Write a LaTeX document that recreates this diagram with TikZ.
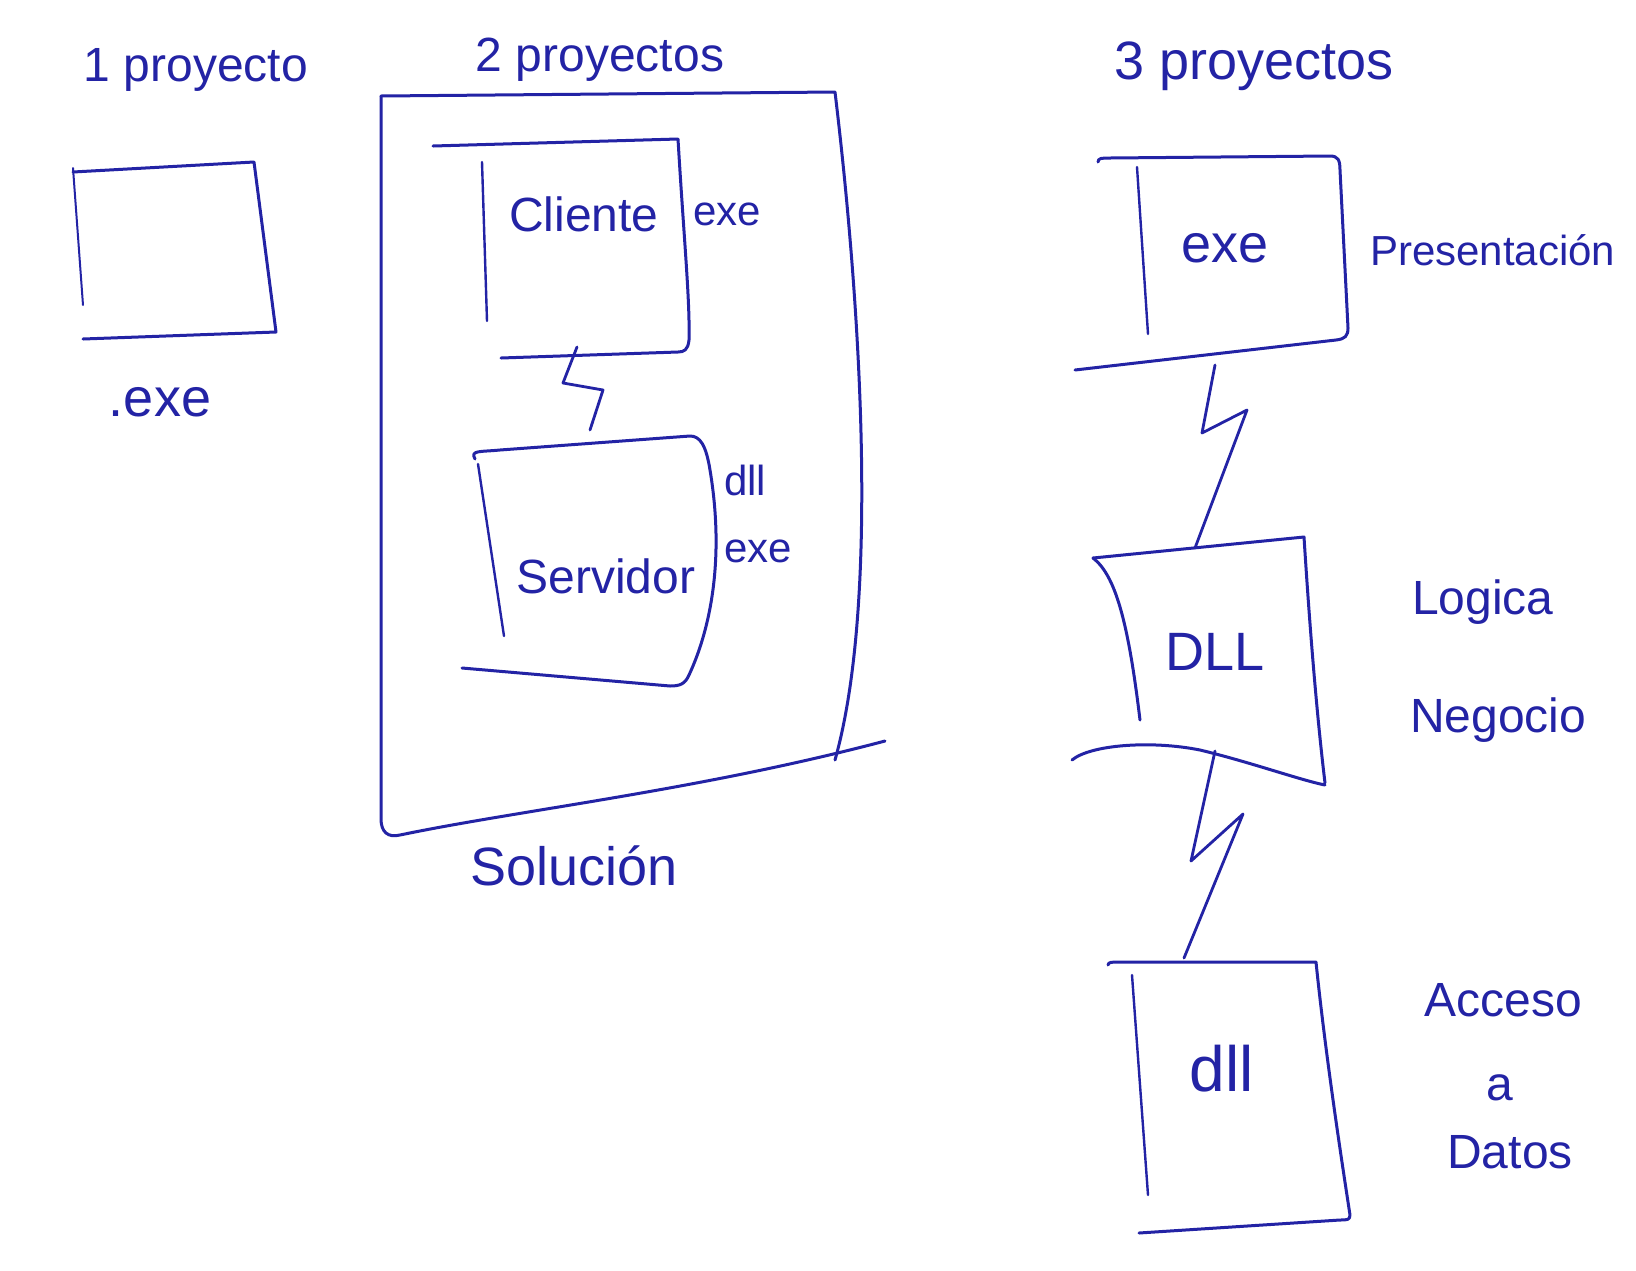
\documentclass[tikz,border=0pt]{standalone}
\usepackage{fontspec}
\setmainfont{Liberation Sans}
\definecolor{ink}{RGB}{35,35,165}
\begin{document}
\begin{tikzpicture}[x=1pt,y=-1pt,
  pen/.style={draw=ink,line width=3pt,line cap=round,line join=round},
  lbl/.style={text=ink,inner sep=0pt,font=\fontsize{42}{48}\selectfont},
  big/.style={text=ink,inner sep=0pt,font=\fontsize{48}{54}\selectfont},
  huge/.style={text=ink,inner sep=0pt,font=\fontsize{54}{60}\selectfont},
  zig/.style={pen,line width=2.8pt}]
\useasboundingbox (0,0) rectangle (1636,1270);
\fill[white] (0,0) rectangle (1636,1270);

% ---- 1 proyecto
\node[big] (t1) at (196,70) {1 proyecto};
\draw[pen] (73,172) -- (254,162) -- (276,332) -- (83,339);
\draw[pen,line width=2pt] (73,168) -- (83,305);
\node[huge] (e1) at (160,402) {.exe};

% ---- 2 proyectos
\node[big] (t2) at (600,60) {2 proyectos};
% solucion frame
\draw[pen] (381,96) -- (835,92) .. controls (860,300) and (880,600) .. (835,760);
\draw[pen] (381,96) -- (381,819) .. controls (381,832) and (388,838) .. (400,835)
  .. controls (520,810) and (700,790) .. (885,741);
\node[huge] (sol) at (574,866) {Solución};
% cliente
\draw[pen] (433,146) -- (678,139) .. controls (684,240) and (690,300) .. (689,340)
  .. controls (688,350) and (684,352) .. (678,352) -- (501,358);
\draw[pen,line width=2.4pt] (482,162) -- (487,321);
\node[big] (cli) at (584,214) {Cliente};
\node[lbl,anchor=west] (cliexe) at (693,214) {exe};
% zigzag
\coordinate (z1a) at (577,347);
\coordinate (z1b) at (590,430);
\draw[zig] (z1a) -- (563,383) -- (603,390) -- (z1b);
% servidor
\draw[pen] (475,459) .. controls (470,450) and (480,452) .. (500,450) -- (690,436)
  .. controls (700,436) and (706,445) .. (710,470)
  .. controls (725,560) and (710,630) .. (689,675)
  .. controls (685,684) and (680,686) .. (670,686) -- (462,668);
\draw[pen,line width=2.4pt] (478,464) -- (504,636);
\node[big] (srv) at (606,576) {Servidor};
\node[lbl,anchor=west] (srvdll) at (724,480) {dll};
\node[lbl,anchor=west] (srvexe) at (724,551) {exe};

% ---- 3 proyectos
\node[huge] (t3) at (1254,66) {3 proyectos};
% exe box
\draw[pen] (1098,162) .. controls (1098,158) and (1102,158) .. (1110,158) -- (1330,156)
  .. controls (1338,156) and (1340,160) .. (1340,170) -- (1348,328)
  .. controls (1348,336) and (1345,339) .. (1336,340) -- (1075,370);
\draw[pen,line width=2.4pt] (1137,167) -- (1148,334);
\node[huge] (exe3) at (1225,248) {exe};
\node[lbl,anchor=west] (pres) at (1370,250) {Presentación};
% zigzag 1
\coordinate (z2a) at (1215,365);
\coordinate (z2b) at (1195,548);
\draw[zig] (z2a) -- (1202,433) -- (1247,410) -- (z2b);
% DLL box
\draw[pen] (1093,558) -- (1304,537) .. controls (1308,600) and (1315,700) .. (1325,783);
\draw[pen] (1093,558) .. controls (1115,575) and (1128,620) .. (1140,720);
\draw[pen] (1072,760) .. controls (1090,745) and (1150,740) .. (1200,750)
  .. controls (1250,762) and (1300,780) .. (1325,785);
\node[huge] (dll3) at (1215,652) {DLL};
\node[big,anchor=west] (neg1) at (1412,602) {Logica};
\node[big,anchor=west] (neg2) at (1410,720) {Negocio};
% zigzag 2
\coordinate (z3a) at (1215,751);
\coordinate (z3b) at (1184,958);
\draw[zig] (z3a) -- (1191,861) -- (1243,814) -- (z3b);
% dll box
\draw[pen] (1108,965) .. controls (1108,962) and (1112,962) .. (1120,962) -- (1316,962)
  .. controls (1325,1050) and (1340,1150) .. (1350,1215)
  .. controls (1350,1220) and (1347,1220) .. (1340,1220) -- (1139,1233);
\draw[pen,line width=2.4pt] (1132,975) -- (1148,1195);
\node[text=ink,inner sep=0pt,font=\fontsize{64}{70}\selectfont] (dll4) at (1222,1069) {dll};
\node[big] (acc1) at (1503,1000) {Acceso};
\node[big] (acc2) at (1500,1088) {a};
\node[big] (acc3) at (1510,1152) {Datos};
\end{tikzpicture}
\end{document}
